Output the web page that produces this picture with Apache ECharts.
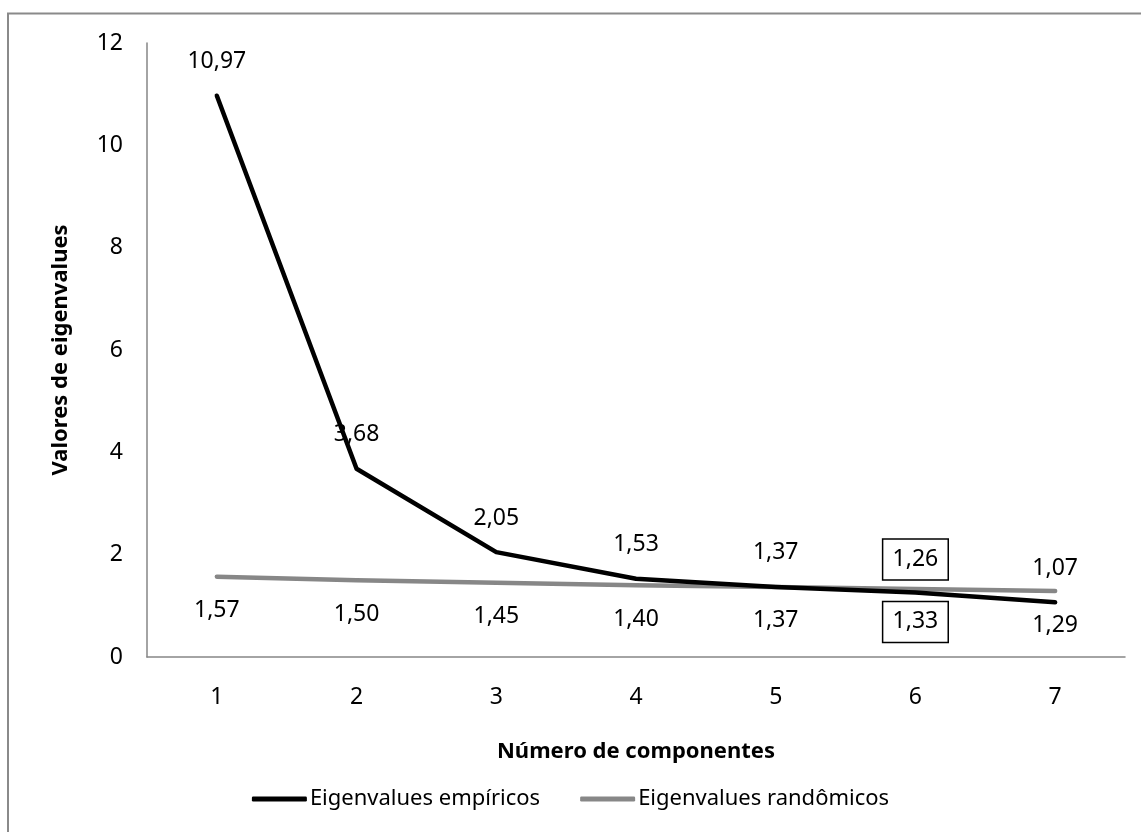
<!DOCTYPE html>
<html>
<head>
<meta charset="utf-8">
<script src="https://cdn.jsdelivr.net/npm/echarts@6/dist/echarts.min.js"></script>
<style>
html,body{margin:0;padding:0;background:#fff;}
#chart{width:1141px;height:832px;}
</style>
</head>
<body>
<div id="chart"></div>
<script>
const categories = ['1', '2', '3', '4', '5', '6', '7'];
const empiricos = [10.97, 3.68, 2.05, 1.53, 1.37, 1.26, 1.07];
const randomicos = [1.57, 1.50, 1.45, 1.40, 1.37, 1.33, 1.29];
const boxedIndex = 5;
const FONT = '"Noto Sans", sans-serif';

function fmt(v) { return v.toFixed(2).replace('.', ','); }

function buildData(values, pos) {
  return values.map((v, i) => {
    if (i === boxedIndex) {
      return {
        value: v,
        label: {
          position: pos,
          distance: 12,
          borderColor: '#000',
          borderWidth: 1.5,
          padding: [9, 10],
          lineHeight: 23
        }
      };
    }
    return v;
  });
}

const chart = echarts.init(document.getElementById('chart'));
chart.setOption({
  animation: false,
  backgroundColor: '#fff',
  textStyle: { fontFamily: FONT },
  graphic: [{
    type: 'rect',
    shape: { x: 8, y: 13.5, width: 1300, height: 1000 },
    style: { fill: 'none', stroke: '#8a8a8a', lineWidth: 2 },
    silent: true
  }],
  grid: { left: 147, right: 16, top: 43, bottom: 175 },
  xAxis: {
    type: 'category',
    data: categories,
    boundaryGap: true,
    name: 'Número de componentes',
    nameLocation: 'middle',
    nameGap: 84,
    nameTextStyle: { fontFamily: FONT, fontSize: 22, fontWeight: 'bold', color: '#000' },
    axisLine: { lineStyle: { color: '#868686', width: 1.5 } },
    axisTick: { show: false },
    axisLabel: { color: '#000', fontFamily: FONT, fontSize: 23, margin: 29 }
  },
  yAxis: {
    type: 'value',
    min: 0, max: 12, interval: 2,
    name: 'Valores de eigenvalues',
    nameLocation: 'middle',
    nameGap: 75,
    nameTextStyle: { fontFamily: FONT, fontSize: 22, fontWeight: 'bold', color: '#000' },
    axisLine: { show: true, lineStyle: { color: '#868686', width: 1.5 } },
    axisTick: { show: false },
    splitLine: { show: false },
    axisLabel: { color: '#000', fontFamily: FONT, fontSize: 23, margin: 24 }
  },
  legend: {
    bottom: 17,
    left: 'center',
    icon: 'roundRect',
    itemWidth: 55,
    itemHeight: 5,
    itemGap: 40,
    textStyle: { fontFamily: FONT, fontSize: 22, color: '#000', padding: [0, 0, 0, -2] },
    data: ['Eigenvalues empíricos', 'Eigenvalues randômicos']
  },
  series: [
    {
      name: 'Eigenvalues empíricos',
      type: 'line',
      data: buildData(empiricos, 'top'),
      symbol: 'circle',
      symbolSize: 1,
      color: '#000',
      lineStyle: { color: '#000', width: 4.5, cap: 'round', join: 'round' },
      label: {
        show: true, position: 'top', distance: 22,
        fontFamily: FONT, fontSize: 23, color: '#000',
        formatter: p => fmt(p.value)
      },
      z: 3
    },
    {
      name: 'Eigenvalues randômicos',
      type: 'line',
      data: buildData(randomicos, 'bottom'),
      symbol: 'circle',
      symbolSize: 1,
      color: '#878787',
      lineStyle: { color: '#878787', width: 4.5, cap: 'round', join: 'round' },
      label: {
        show: true, position: 'bottom', distance: 22,
        fontFamily: FONT, fontSize: 23, color: '#000',
        formatter: p => fmt(p.value)
      },
      z: 2
    }
  ]
});
</script>
</body>
</html>
